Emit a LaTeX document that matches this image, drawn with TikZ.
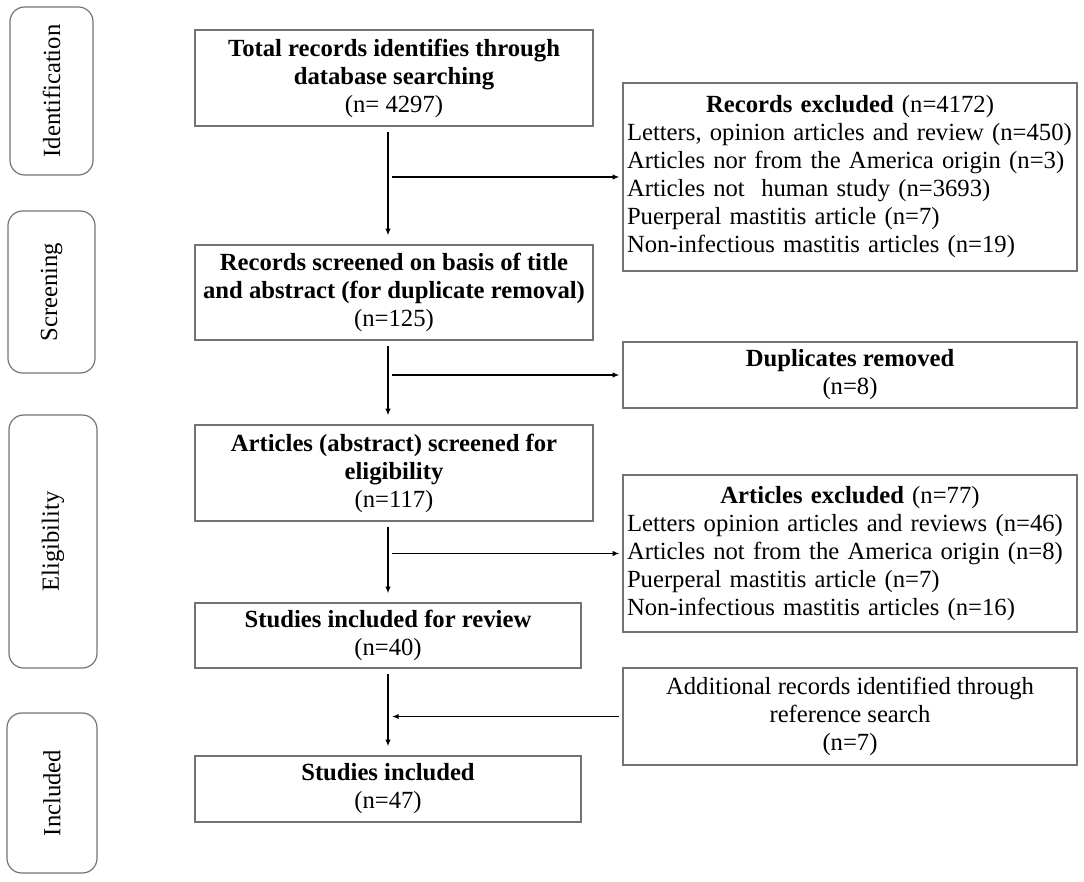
\documentclass[tikz,border=0pt]{standalone}
\usepackage{fontspec}
\setmainfont{Liberation Serif}
\usetikzlibrary{arrows.meta}

\def\px{0.75pt}

\begin{document}
\begin{tikzpicture}[x=0.75pt,y=-0.75pt,
  font=\fontsize{18.5}{21}\selectfont,
  mainbox/.style={draw=black!55, line width=0.9pt, align=center, inner sep=0pt},
  sidebox/.style={draw=black!55, line width=0.9pt, rounded corners=11pt, rotate=90, inner sep=0pt},
  arr/.style={-{Latex[length=5pt,width=4pt]}, line width=1.1pt, black},
  vline/.style={arr, shorten <=5*\px, shorten >=9*\px}]
\useasboundingbox (0,0) rectangle (1084,881);

% Stage labels
\node[sidebox, minimum width=168*\px, minimum height=83*\px] (sid) at (51.5,91) {Identification};
\node[sidebox, minimum width=162*\px, minimum height=87*\px] (sscr) at (51.5,292) {Screening};
\node[sidebox, minimum width=253*\px, minimum height=88*\px] (selg) at (53,541.5) {Eligibility};
\node[sidebox, minimum width=160*\px, minimum height=90*\px] (sinc) at (52,793) {Included};

% Main column
\node[mainbox, minimum width=398*\px, minimum height=96*\px] (tot) at (394,78)
  {\textbf{Total records identifies through}\\\textbf{database searching}\\(n= 4297)};
\node[mainbox, minimum width=398*\px, minimum height=95*\px] (scr) at (394,292.5)
  {\textbf{Records screened on basis of title}\\\textbf{and abstract (for duplicate removal)}\\(n=125)};
\node[mainbox, minimum width=398*\px, minimum height=96*\px] (elg) at (394,473)
  {\textbf{Articles (abstract) screened for}\\\textbf{eligibility}\\(n=117)};
\node[mainbox, minimum width=386*\px, minimum height=65*\px] (rev) at (388,635.5)
  {\textbf{Studies included for review}\\(n=40)};
\node[mainbox, minimum width=386*\px, minimum height=66*\px] (inc) at (388,789)
  {\textbf{Studies included}\\(n=47)};

% Right column
\node[mainbox, minimum width=454*\px, minimum height=188*\px, text width=446*\px, align=left] (exc1) at (850,177)
  {{\centering\textbf{Records excluded} (n=4172)\par}
   Letters, opinion articles and review (n=450)\\
   Articles nor from the America origin (n=3)\\
   Articles not\ \ human study (n=3693)\\
   Puerperal mastitis article (n=7)\\
   Non-infectious mastitis articles (n=19)};
\node[mainbox, minimum width=454*\px, minimum height=66*\px] (dup) at (850,375)
  {\textbf{Duplicates removed}\\(n=8)};
\node[mainbox, minimum width=454*\px, minimum height=157*\px, text width=446*\px, align=left] (exc2) at (850,553.5)
  {{\centering\textbf{Articles excluded} (n=77)\par}
   Letters opinion articles and reviews (n=46)\\
   Articles not from the America origin (n=8)\\
   Puerperal mastitis article (n=7)\\
   Non-infectious mastitis articles (n=16)};
\node[mainbox, minimum width=454*\px, minimum height=97*\px] (add) at (850,716.5)
  {Additional records identified through\\reference search\\(n=7)};

% Connectors
\coordinate (spine) at (388,0);
\draw[vline] (tot.south -| spine) -- (scr.north -| spine);
\draw[vline] (scr.south -| spine) -- (elg.north -| spine);
\draw[vline] (elg.south -| spine) -- (rev.north -| spine);
\draw[vline] (rev.south -| spine) -- (inc.north -| spine);

\draw[arr, shorten <=4*\px, shorten >=3*\px] (exc1.west -| spine) -- (exc1.west);
\draw[arr, shorten <=4*\px, shorten >=3*\px] (dup.west -| spine) -- (dup.west);
\draw[arr, shorten <=4*\px, shorten >=3*\px] (exc2.west -| spine) -- (exc2.west);
\draw[arr, shorten <=3*\px, shorten >=4*\px] (add.west) -- (add.west -| spine);

\end{tikzpicture}
\end{document}
